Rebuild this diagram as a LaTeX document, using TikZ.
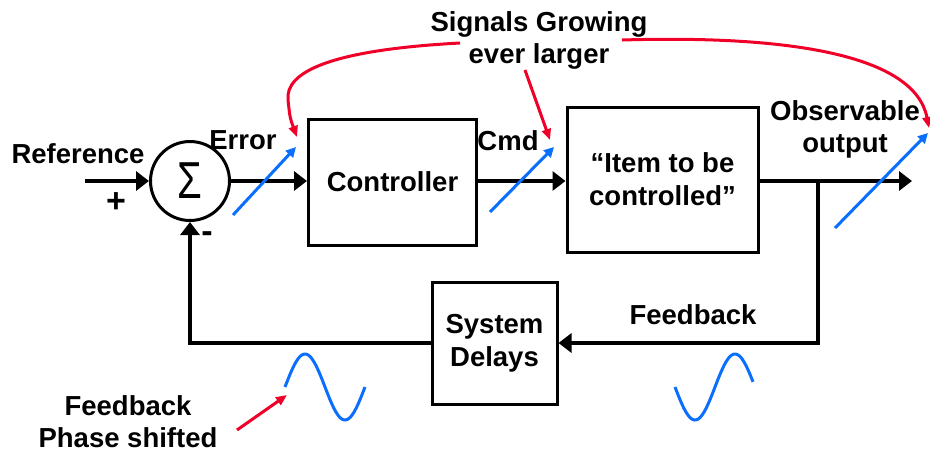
\documentclass[tikz,border=0pt]{standalone}
\usepackage{fontspec}
\setmainfont{Liberation Sans}
\usetikzlibrary{arrows.meta}
\definecolor{sigblue}{RGB}{10,110,255}
\definecolor{sigred}{RGB}{240,0,40}
\tikzset{
  lbl/.style={font=\fontsize{27.5}{32}\selectfont\bfseries, align=center, inner sep=0pt},
  sign/.style={font=\fontsize{34}{34}\selectfont\bfseries, inner sep=0pt},
  blockbox/.style={draw, line width=3pt, inner sep=0pt, font=\fontsize{27.5}{33}\selectfont\bfseries, align=center},
  blk/.style={line width=4pt, -{Triangle[length=13pt,width=19pt]}},
  bluearrow/.style={sigblue, line width=3pt, -{Triangle[length=10pt,width=10pt]}},
  redarrow/.style={sigred, line width=3pt, -{Triangle[length=11pt,width=9pt]}},
  wave/.style={sigblue, line width=3pt}
}
\begin{document}
\begin{tikzpicture}[x=1pt,y=-1pt]
\useasboundingbox (0,0) rectangle (930,453);
% blocks
\node[circle, draw, line width=3pt, minimum size=79pt, inner sep=0pt] (sum) at (190,181)
  {\scalebox{1}[1.3]{\fontsize{40}{40}\selectfont Σ}};
\node[blockbox, minimum width=168pt, minimum height=126pt] (ctrl) at (392.5,182) {Controller};
\node[blockbox, minimum width=191pt, minimum height=145pt] (item) at (662.5,179.5) {“Item to be\\controlled”};
\node[blockbox, minimum width=125pt, minimum height=122pt] (delay) at (494.5,343) {System\\Delays};
% coordinates
\coordinate (refin) at (85,181);
\coordinate (out) at (912,181);
\coordinate (br) at (818,181);
% connectors
\draw[blk] (refin) -- (sum.west);
\draw[blk] (sum.east) -- (sum.east -| ctrl.west);
\draw[blk] (ctrl.east |- sum) -- (sum -| item.west);
\draw[blk] (item.east |- sum) -- (out);
\draw[blk] (br) |- (delay.east);
\draw[blk] (delay.west) -| (sum.south);
% labels
\node[lbl] (reflbl) at (78,154) {Reference};
\node[sign] (plus) at (116,203) {+};
\node[sign] (minus) at (207,237) {-};
\node[lbl] (errlbl) at (243,140) {Error};
\node[lbl] (cmdlbl) at (508,141) {Cmd};
\node[lbl] (obslbl) at (845,129) {Observable\\output};
\node[lbl] (sglbl) at (539,40) {Signals Growing\\ever larger};
\node[lbl] (fblbl) at (693,315) {Feedback};
\node[lbl] (fpslbl) at (128,422) {Feedback\\Phase shifted};
% blue growth arrows
\coordinate (b1s) at (233,215); \coordinate (b1e) at (296,147);
\coordinate (b2s) at (490,212); \coordinate (b2e) at (554,147);
\coordinate (b3s) at (835,228); \coordinate (b3e) at (928,133);
\draw[bluearrow] (b1s) -- (b1e);
\draw[bluearrow] (b2s) -- (b2e);
\draw[bluearrow] (b3s) -- (b3e);
% red pointer arrows
\coordinate (r1s) at (460,43); \coordinate (r1e) at (297,137);
\coordinate (r2s) at (525,70); \coordinate (r2e) at (550,140);
\coordinate (r3s) at (622,40); \coordinate (r3e) at (929,128);
\coordinate (r4s) at (237,430); \coordinate (r4e) at (287,395);
\draw[redarrow] (r1s) .. controls (330,50) and (285,72) .. (288,100) .. controls (290,118) .. (r1e);
\draw[redarrow] (r2s) -- (r2e);
\draw[redarrow] (r3s) .. controls (790,35) and (915,55) .. (r3e);
\draw[redarrow] (r4s) -- (r4e);
% sine waves
\draw[wave] plot[domain=0:80, samples=60, smooth] ({285+\x},{387-33*sin(\x*4.5)});
\draw[wave] plot[domain=0:78, samples=60, smooth] ({675+\x},{387+33*sin(\x*4.5)});
\end{tikzpicture}
\end{document}
